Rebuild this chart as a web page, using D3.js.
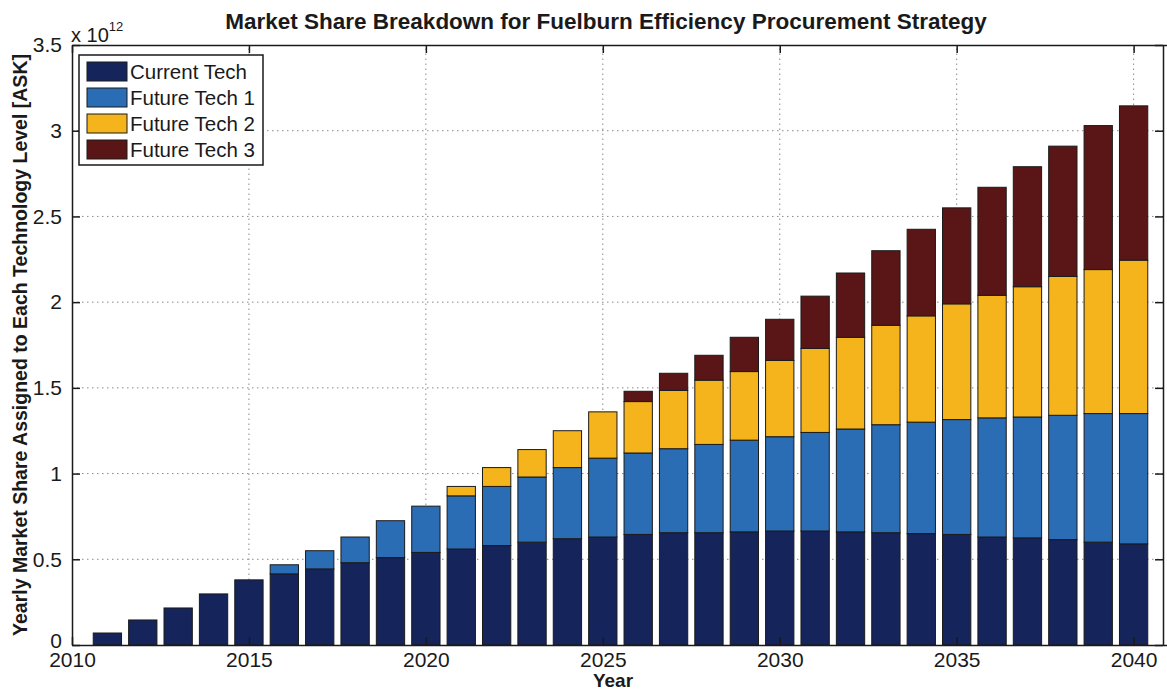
<!DOCTYPE html>
<html>
<head>
<meta charset="utf-8">
<script src="https://cdn.jsdelivr.net/npm/d3@7"></script>
<style>
  body { margin: 0; background: #fff; }
  svg { display: block; font-family: "Liberation Sans", Arial, sans-serif; }
  .grid line { stroke: #8a8a8a; stroke-dasharray: 1.5,3.5; stroke-width: 1; }
</style>
</head>
<body>
<div id="chart"></div>
<script>
// Data (units of 10^12 ASK)
var years = [2011, 2012, 2013, 2014, 2015, 2016, 2017, 2018, 2019, 2020,
             2021, 2022, 2023, 2024, 2025, 2026, 2027, 2028, 2029, 2030,
             2031, 2032, 2033, 2034, 2035, 2036, 2037, 2038, 2039, 2040];
var currentTech = [0.07, 0.146, 0.216, 0.298, 0.38, 0.415, 0.444, 0.48, 0.51, 0.54,
                   0.56, 0.58, 0.60, 0.62, 0.63, 0.645, 0.655, 0.655, 0.66, 0.665,
                   0.665, 0.66, 0.655, 0.65, 0.645, 0.63, 0.625, 0.615, 0.60, 0.59];
var futureTech1 = [0, 0, 0, 0, 0, 0.053, 0.106, 0.15, 0.215, 0.27,
                   0.31, 0.345, 0.38, 0.415, 0.46, 0.475, 0.49, 0.515, 0.535, 0.55,
                   0.575, 0.60, 0.63, 0.65, 0.67, 0.695, 0.705, 0.725, 0.75, 0.76];
var futureTech2 = [0, 0, 0, 0, 0, 0, 0, 0, 0, 0,
                   0.055, 0.11, 0.16, 0.215, 0.27, 0.30, 0.34, 0.375, 0.40, 0.445,
                   0.49, 0.535, 0.58, 0.62, 0.675, 0.715, 0.76, 0.81, 0.84, 0.895];
var futureTech3 = [0, 0, 0, 0, 0, 0, 0, 0, 0, 0,
                   0, 0, 0, 0, 0, 0.06, 0.10, 0.145, 0.20, 0.24,
                   0.305, 0.375, 0.435, 0.505, 0.56, 0.63, 0.70, 0.76, 0.84, 0.90];
var seriesNames = ["Current Tech", "Future Tech 1", "Future Tech 2", "Future Tech 3"];
var seriesColors = ["#16245c", "#2a6db5", "#f5b41c", "#5a1616"];
var xTicks = [2010, 2015, 2020, 2025, 2030, 2035, 2040];
var yTicks = [0, 0.5, 1, 1.5, 2, 2.5, 3, 3.5];

var svgWidth = 1167, svgHeight = 692;
var margin = { top: 45, left: 72, bottom: 47 };
var plotRight = 1169;  // right box edge just past the picture
var height = svgHeight - margin.top - margin.bottom;

var svg = d3.select("#chart").append("svg")
  .attr("width", svgWidth)
  .attr("height", svgHeight);

var x = d3.scaleLinear().domain([2010, 2041]).range([margin.left, plotRight]);
var y = d3.scaleLinear().domain([0, 3.5]).range([margin.top + height, margin.top]);

// build table for the stack
var table = years.map(function(yr, i) {
  return { year: yr, "Current Tech": currentTech[i], "Future Tech 1": futureTech1[i],
           "Future Tech 2": futureTech2[i], "Future Tech 3": futureTech3[i] };
});
var stacked = d3.stack().keys(seriesNames)(table);

// Grid
var grid = svg.append("g").attr("class", "grid");
grid.selectAll(".gx").data(xTicks.slice(1)).enter().append("line")
  .attr("x1", function(d) { return x(d); }).attr("x2", function(d) { return x(d); })
  .attr("y1", y(0)).attr("y2", y(3.5));
grid.selectAll(".gy").data(yTicks.slice(1, -1)).enter().append("line")
  .attr("y1", function(d) { return y(d); }).attr("y2", function(d) { return y(d); })
  .attr("x1", x(2010)).attr("x2", plotRight);

// Bars
var barW = (x(2011) - x(2010)) * 0.8;
svg.append("g").selectAll("g")
  .data(stacked).enter().append("g")
    .attr("fill", function(d, i) { return seriesColors[i]; })
  .selectAll("rect")
  .data(function(d) { return d.filter(function(p) { return p[1] - p[0] > 0; }); })
  .enter().append("rect")
    .attr("x", function(d) { return x(d.data.year) - barW / 2; })
    .attr("y", function(d) { return y(d[1]); })
    .attr("width", barW)
    .attr("height", function(d) { return y(d[0]) - y(d[1]); })
    .attr("stroke", "#1a1a1a")
    .attr("stroke-width", 1);

// Axes (MATLAB style: ticks pointing in, box around)
var tickLen = 8;
var bottomAxis = d3.axisBottom(x).tickValues(xTicks).tickFormat(d3.format("d"))
  .tickSizeInner(-tickLen).tickSizeOuter(0).tickPadding(7);
var leftAxis = d3.axisLeft(y).tickValues(yTicks).tickFormat(function(d) { return d; })
  .tickSizeInner(-tickLen).tickSizeOuter(0).tickPadding(10);

var gx = svg.append("g").attr("transform", "translate(0," + y(0) + ")").call(bottomAxis);
var gy = svg.append("g").attr("transform", "translate(" + x(2010) + ",0)").call(leftAxis);
[gx, gy].forEach(function(g) {
  g.selectAll("text").attr("font-size", 21).attr("fill", "#1a1a1a")
    .attr("font-family", "Liberation Sans, Arial, sans-serif");
  g.selectAll("line, path").attr("stroke", "#1a1a1a").attr("stroke-width", 1.5);
});
// lift the "0" a little so it clears "2010"
gy.selectAll(".tick text").filter(function(d) { return d === 0; }).attr("dy", "0.1em");

// top and right ticks
svg.append("g").call(d3.axisTop(x).tickValues(xTicks).tickSizeInner(-tickLen).tickSizeOuter(0).tickFormat(""))
  .attr("transform", "translate(0," + y(3.5) + ")")
  .selectAll("line, path").attr("stroke", "#1a1a1a").attr("stroke-width", 1.5);
svg.append("g").call(d3.axisRight(y).tickValues(yTicks).tickSizeInner(-tickLen).tickSizeOuter(0).tickFormat(""))
  .attr("transform", "translate(" + (plotRight - 6) + ",0)")
  .selectAll("line, path").attr("stroke", "#1a1a1a").attr("stroke-width", 1.5);

// exponent label
var expo = svg.append("text").attr("x", 71).attr("y", 42)
  .attr("font-size", 20).attr("fill", "#1a1a1a").text("x 10");
expo.append("tspan").attr("dy", -11).attr("font-size", 13).text("12");

// Title
svg.append("text")
  .attr("x", 606).attr("y", 29)
  .attr("text-anchor", "middle")
  .attr("font-size", 22.5).attr("font-weight", "bold").attr("fill", "#1a1a1a")
  .text("Market Share Breakdown for Fuelburn Efficiency Procurement Strategy");

// Axis labels
svg.append("text")
  .attr("x", 613).attr("y", 687)
  .attr("text-anchor", "middle")
  .attr("font-size", 19).attr("font-weight", "bold").attr("fill", "#1a1a1a")
  .text("Year");
svg.append("text")
  .attr("transform", "translate(27," + 345 + ") rotate(-90)")
  .attr("text-anchor", "middle")
  .attr("font-size", 19.5).attr("font-weight", "bold").attr("fill", "#1a1a1a")
  .text("Yearly Market Share Assigned to Each Technology Level [ASK]");

// Legend
var legend = svg.append("g").attr("transform", "translate(79,55)");
legend.append("rect").attr("width", 184).attr("height", 110)
  .attr("fill", "#fff").attr("stroke", "#1a1a1a").attr("stroke-width", 1.5);
var item = legend.selectAll(".item").data(seriesNames).enter().append("g")
  .attr("transform", function(d, i) { return "translate(8," + (7 + i * 26) + ")"; });
item.append("rect").attr("width", 40).attr("height", 19)
  .attr("fill", function(d, i) { return seriesColors[i]; })
  .attr("stroke", "#1a1a1a").attr("stroke-width", 1);
item.append("text").attr("x", 43).attr("y", 17)
  .attr("font-size", 20.5).attr("fill", "#1a1a1a")
  .text(function(d) { return d; });
</script>
</body>
</html>
